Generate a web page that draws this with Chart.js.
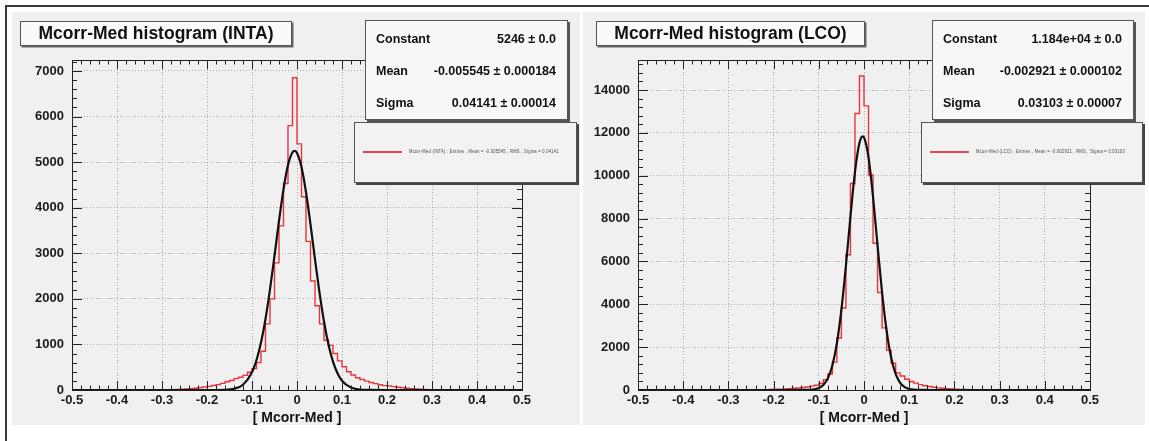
<!DOCTYPE html>
<html>
<head>
<meta charset="utf-8">
<script src="https://cdn.jsdelivr.net/npm/chart.js@4/dist/chart.umd.min.js"></script>
<style>
  body { margin: 0; width: 1149px; height: 441px; background: #fff; position: relative; overflow: hidden;
         font-family: "Liberation Sans", Arial, Helvetica, sans-serif; }
  .outer { position: absolute; left: 5px; top: 5px; width: 1160px; height: 460px;
           border-top: 2px solid #3a3a3a; border-left: 2px solid #3a3a3a; }
  .panel { position: absolute; top: 12px; height: 413px; background: #f0f0f0; }
  .panel canvas { position: absolute; left: 0; top: 0; }
  .title { position: absolute; top: 9px; height: 25px; box-sizing: border-box; background: #fafafa;
           border: 1px solid #555; box-shadow: 1.5px 1.5px 0 #666; font-weight: bold; font-size: 17.5px;
           line-height: 23px; text-align: center; color: #111; white-space: nowrap; }
  .stats { position: absolute; top: 8px; height: 100px; box-sizing: border-box; background: #f7f7f7;
           border: 1px solid #555; box-shadow: 2px 2px 0 #555; padding-top: 2px; }
  .stats div { height: 32px; line-height: 32px; font-size: 12.5px; font-weight: bold; color: #111;
               display: flex; justify-content: space-between; padding: 0 11px 0 10px; }
  .legend { position: absolute; top: 110px; height: 61px; box-sizing: border-box; background: #f2f2f2;
            border: 1px solid #555; box-shadow: 2px 2px 0 #444; }
  .legend .line { position: absolute; left: 8px; top: 28px; width: 39px; height: 2px; background: #e8454c; }
  .legend .txt { position: absolute; left: 54px; top: 26px; font-size: 9px; white-space: nowrap; color: #444;
                 transform: scale(0.45, 0.5); transform-origin: 0 0; letter-spacing: 0.6px; }
</style>
</head>
<body>
<div class="outer"></div>

<div class="panel" style="left:12px;width:568px">
  <canvas id="inta" width="568" height="413"></canvas>
  <div class="title" style="left:8px;width:272px">Mcorr-Med histogram (INTA)</div>
  <div class="stats" style="left:353px;width:203px">
    <div><span>Constant</span><span>5246 ± 0.0</span></div>
    <div><span>Mean</span><span>-0.005545 ± 0.000184</span></div>
    <div><span>Sigma</span><span>0.04141 ± 0.00014</span></div>
  </div>
  <div class="legend" style="left:342px;width:223px">
    <div class="line"></div>
    <div class="txt">Mcorr-Med (INTA) : Entries , Mean = -0.005545 , RMS , Sigma = 0.04141</div>
  </div>
</div>

<div class="panel" style="left:583px;width:562px">
  <canvas id="lco" width="562" height="413"></canvas>
  <div class="title" style="left:13px;width:269px">Mcorr-Med histogram (LCO)</div>
  <div class="stats" style="left:349px;width:202px">
    <div><span>Constant</span><span>1.184e+04 ± 0.0</span></div>
    <div><span>Mean</span><span>-0.002921 ± 0.000102</span></div>
    <div><span>Sigma</span><span>0.03103 ± 0.00007</span></div>
  </div>
  <div class="legend" style="left:338px;width:222px">
    <div class="line"></div>
    <div class="txt">Mcorr-Med (LCO) : Entries , Mean = -0.002921 , RMS , Sigma = 0.03103</div>
  </div>
</div>

<script>
// histogram binning: 100 bins from -0.5 to 0.5
const BIN_LOW = -0.5;
const BIN_WIDTH = 0.01;

const X_TICKS = [-0.5, -0.4, -0.3, -0.2, -0.1, 0, 0.1, 0.2, 0.3, 0.4, 0.5];
const INTA_Y_TICKS = [0, 1000, 2000, 3000, 4000, 5000, 6000, 7000];
const LCO_Y_TICKS = [0, 2000, 4000, 6000, 8000, 10000, 12000, 14000];

const INTA_COUNTS = [
  0, 0, 0, 0, 0, 0, 0, 0, 0, 0,
  0, 0, 0, 0, 0, 0, 0, 0, 2, 3,
  5, 7, 9, 12, 16, 22, 30, 40, 52, 65,
  80, 98, 118, 145, 180, 210, 250, 280, 320, 390,
  470, 600, 850, 1450, 2000, 2790, 3600, 4530, 5800, 6850,
  5400, 4240, 3260, 2390, 1850, 1450, 1090, 980, 800, 640,
  510, 400, 330, 270, 230, 195, 165, 140, 115, 95,
  90, 75, 60, 48, 38, 30, 23, 17, 12, 9,
  6, 4, 3, 2, 1, 0, 0, 0, 0, 0,
  0, 0, 0, 0, 0, 0, 0, 0, 0, 0
];

const LCO_COUNTS = [
  0, 0, 0, 0, 0, 0, 0, 0, 0, 0,
  0, 0, 0, 0, 0, 0, 0, 0, 0, 0,
  0, 1, 2, 3, 5, 7, 10, 14, 19, 25,
  33, 42, 52, 65, 80, 95, 115, 140, 180, 220,
  300, 480, 750, 1300, 2430, 3830, 6310, 9640, 12900, 14650,
  13260, 10030, 6850, 4550, 2900, 1850, 1250, 800, 650, 500,
  400, 320, 250, 200, 160, 125, 100, 80, 62, 48,
  36, 27, 20, 15, 11, 8, 6, 4, 3, 2,
  1, 0, 0, 0, 0, 0, 0, 0, 0, 0,
  0, 0, 0, 0, 0, 0, 0, 0, 0, 0
];

// gaussian fit curves
const INTA_FIT_X = [-0.5, -0.2, -0.16, -0.14, -0.12, -0.1, -0.09, -0.08, -0.07, -0.06, -0.05, -0.04, -0.03, -0.02, -0.01, -0.005,
  0, 0.01, 0.02, 0.03, 0.04, 0.05, 0.06, 0.07, 0.08, 0.09, 0.1, 0.12, 0.14, 0.16, 0.2, 0.5];
const INTA_FIT_Y = [0, 0, 5, 27, 114, 388, 654, 1040, 1558, 2207, 2943, 3708, 4403, 4934, 5215, 5246,
  5200, 4891, 4339, 3634, 2868, 2135, 1502, 995, 622, 367, 204, 53, 11, 2, 0, 0];

const LCO_FIT_X = [-0.5, -0.16, -0.13, -0.12, -0.11, -0.1, -0.09, -0.08, -0.07, -0.06, -0.05, -0.04, -0.03, -0.02, -0.01, -0.003,
  0, 0.01, 0.02, 0.03, 0.04, 0.05, 0.06, 0.07, 0.08, 0.09, 0.1, 0.11, 0.13, 0.16, 0.5];
const LCO_FIT_Y = [0, 0, 2, 10, 31, 89, 231, 541, 1144, 2180, 3745, 5798, 8090, 10170, 11535, 11840,
  11788, 10857, 9012, 6744, 4550, 2767, 1515, 749, 333, 134, 48, 16, 2, 0, 0];

const FONT = "'Liberation Sans', Arial, Helvetica, sans-serif";

// ROOT-like frame: mirrored inward ticks with 5 subdivisions
const rootFrame = {
  id: 'rootFrame',
  afterDraw(chart, args, opts) {
    const { ctx, chartArea: a, scales: { x, y } } = chart;
    ctx.save();
    ctx.strokeStyle = '#222';
    ctx.lineWidth = 1;
    ctx.strokeRect(Math.round(a.left) + 0.5, Math.round(a.top) + 0.5, Math.round(a.right - a.left), Math.round(a.bottom - a.top));
    ctx.beginPath();
    const xstep = (X_TICKS[1] - X_TICKS[0]) / 5;
    for (let k = 0; x.min + k * xstep <= x.max + 1e-9; k++) {
      const px = Math.round(x.getPixelForValue(x.min + k * xstep)) + 0.5;
      const len = k % 5 === 0 ? 9 : 4.5;
      ctx.moveTo(px, a.bottom); ctx.lineTo(px, a.bottom - len);
      ctx.moveTo(px, a.top); ctx.lineTo(px, a.top + len);
    }
    const yt = opts.yTicks;
    const ystep = (yt[1] - yt[0]) / 5;
    for (let k = 0; y.min + k * ystep <= y.max; k++) {
      const py = Math.round(y.getPixelForValue(y.min + k * ystep)) + 0.5;
      const len = k % 5 === 0 ? 10 : 5;
      ctx.moveTo(a.left, py); ctx.lineTo(a.left + len, py);
      ctx.moveTo(a.right, py); ctx.lineTo(a.right - len, py);
    }
    ctx.stroke();
    ctx.restore();
  }
};

function histChart(id, counts, fitX, fitY, yTicks, yMax, yWidth, padRight) {
  const hist = counts.map((c, i) => ({ x: BIN_LOW + (i + 0.5) * BIN_WIDTH, y: c }));
  const fit = fitX.map((v, i) => ({ x: v, y: fitY[i] }));
  return new Chart(document.getElementById(id), {
    type: 'line',
    data: {
      datasets: [
        { data: fit, borderColor: '#111', borderWidth: 2.2, pointRadius: 0, fill: false,
          cubicInterpolationMode: 'monotone', order: 0 },
        { data: hist, borderColor: '#e8343c', borderWidth: 1.4, pointRadius: 0, fill: false,
          stepped: 'middle', order: 1 },
      ]
    },
    options: {
      responsive: false,
      animation: false,
      layout: { padding: { top: 48, right: padRight, left: 0, bottom: 0 } },
      plugins: { legend: { display: false }, tooltip: { enabled: false }, rootFrame: { yTicks } },
      scales: {
        x: {
          type: 'linear', min: -0.5, max: 0.5,
          afterBuildTicks: s => { s.ticks = X_TICKS.map(v => ({ value: v })); },
          afterFit: s => { s.height = 35; },
          ticks: { color: '#1a1a1a', padding: 3, maxRotation: 0, font: { family: FONT, size: 13, weight: 'bold' },
                   callback: v => String(v) },
          grid: { color: 'rgba(0,0,0,0.28)', drawTicks: false },
          border: { display: false, dash: [1, 2] },
          title: { display: true, text: '[ Mcorr-Med ]', color: '#111', padding: 0,
                   font: { family: FONT, size: 14, weight: 'bold', lineHeight: 1.05 } },
        },
        y: {
          min: 0, max: yMax,
          afterBuildTicks: s => { s.ticks = yTicks.map(v => ({ value: v })); },
          afterFit: s => { s.width = yWidth; },
          ticks: { color: '#1a1a1a', padding: 8, font: { family: FONT, size: 13, weight: 'bold' },
                   callback: v => String(v) },
          grid: { color: 'rgba(0,0,0,0.28)', drawTicks: false },
          border: { display: false, dash: [1, 2] },
        }
      }
    },
    plugins: [rootFrame]
  });
}

histChart('inta', INTA_COUNTS, INTA_FIT_X, INTA_FIT_Y, INTA_Y_TICKS, 7240, 60, 58);
histChart('lco', LCO_COUNTS, LCO_FIT_X, LCO_FIT_Y, LCO_Y_TICKS, 15400, 55, 55);
</script>
</body>
</html>
